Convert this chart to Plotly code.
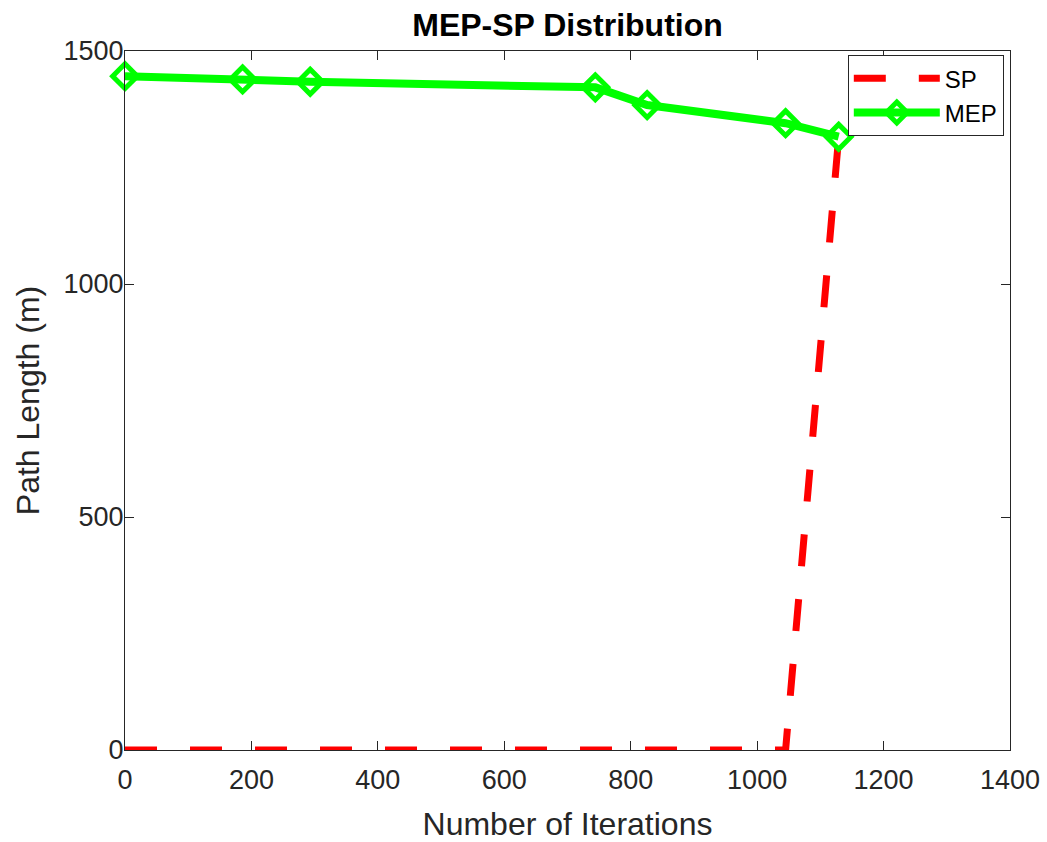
import plotly.graph_objects as go

# Iteration counts at which the path lengths were recorded
iterations = [0, 186, 293, 744, 826, 1045, 1129]
# Maximum-entropy path length (m)
mep_length = [1446, 1439, 1434, 1422, 1384, 1345, 1316]
# Shortest path length (m)
sp_length = [0, 0, 0, 0, 0, 0, 1316]

x_ticks = [0, 200, 400, 600, 800, 1000, 1200, 1400]
y_ticks = [0, 500, 1000, 1500]

FONT = "Liberation Sans, Arial, Helvetica, sans-serif"
AXIS_COLOR = "#262626"

fig = go.Figure()

fig.add_trace(go.Scatter(
    x=iterations, y=sp_length, name="SP", mode="lines",
    line=dict(color="#ff0000", width=7, dash="32px,33px"),
    cliponaxis=False,
))
fig.add_trace(go.Scatter(
    x=iterations, y=mep_length, name="MEP", mode="lines+markers",
    line=dict(color="#00ff00", width=8),
    marker=dict(symbol="diamond-open", size=19, color="#00ff00",
                line=dict(color="#00ff00", width=5)),
    cliponaxis=False,
))

axis_common = dict(
    showline=True, linecolor=AXIS_COLOR, linewidth=1, mirror="ticks",
    ticks="inside", ticklen=9, tickcolor=AXIS_COLOR, tickwidth=1,
    showgrid=False, zeroline=False, automargin=False,
    tickfont=dict(family=FONT, size=27, color=AXIS_COLOR),
)

fig.update_xaxes(
    range=[0, 1400], tickvals=x_ticks, ticktext=[str(v) for v in x_ticks],
    ticklabelstandoff=6,
    title=dict(text="Number of Iterations", standoff=18,
               font=dict(family=FONT, size=32, color=AXIS_COLOR)),
    **axis_common,
)
fig.update_yaxes(
    range=[0, 1500], tickvals=y_ticks, ticktext=[str(v) for v in y_ticks],
    ticklabelstandoff=-5,
    title=dict(text="Path Length (m)", standoff=14,
               font=dict(family=FONT, size=32, color=AXIS_COLOR)),
    **axis_common,
)

fig.update_layout(
    width=1047, height=842,
    margin=dict(l=125, r=37, t=51, b=92),
    paper_bgcolor="white", plot_bgcolor="white",
    title=dict(text="<b>MEP-SP Distribution</b>", x=0.5, xref="paper",
               y=1 - 25 / 842, yref="container", yanchor="middle",
               font=dict(family=FONT, size=32, color="black")),
    legend=dict(x=0.993, y=0.994, xanchor="right", yanchor="top",
                bgcolor="white", bordercolor=AXIS_COLOR, borderwidth=1,
                font=dict(family=FONT, size=24, color="black"),
                itemwidth=86, tracegroupgap=0),
    showlegend=True,
)

fig.write_html("out.html")
